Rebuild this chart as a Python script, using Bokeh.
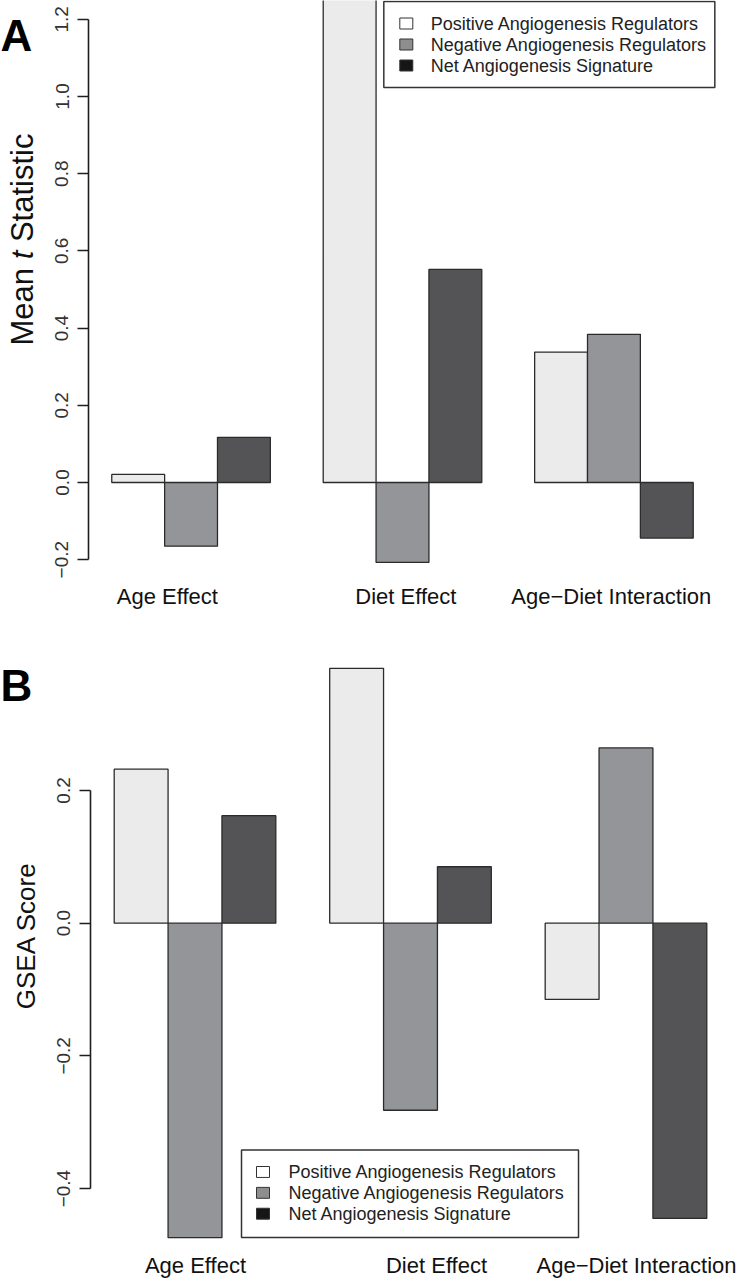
import math
from bokeh.plotting import figure
from bokeh.models import FixedTicker, Range1d
from bokeh.layouts import column, row
from bokeh.embed import file_html
from bokeh.resources import INLINE
from bokeh.core.properties import value

FONT = "Liberation Sans"

# ---------------- data ----------------
groups = ["Age Effect", "Diet Effect", "Age\u2212Diet Interaction"]
series = ["Positive Angiogenesis Regulators",
          "Negative Angiogenesis Regulators",
          "Net Angiogenesis Signature"]

mean_t_positive = [0.021, 1.30, 0.338]
mean_t_negative = [-0.165, -0.207, 0.384]
mean_t_net = [0.117, 0.552, -0.144]

gsea_positive = [0.232, 0.384, -0.115]
gsea_negative = [-0.474, -0.282, 0.264]
gsea_net = [0.162, 0.085, -0.445]

yticks_a = [-0.2, 0.0, 0.2, 0.4, 0.6, 0.8, 1.0, 1.2]
yticks_b = [-0.4, -0.2, 0.0, 0.2]

# ---------------- styles ----------------
bar_fill = ["#ebebeb", "#939598", "#545456"]
swatch_fill = ["#ffffff", "#8e8e8e", "#161616"]
EDGE = "#2b2b2b"

# frame edges (page pixels) of the two panels
A_TOP, A_BOTTOM = 0, 570
B_TOP, B_BOTTOM = 645, 1247


def bar_lefts(g_count, s):
    # R barplot(beside=TRUE, space=c(0,1)) layout
    return [1 + g * (3 + 1) + s for g in range(g_count)]


# page-pixel -> data helpers (for placing annotations)
def ax(px):
    return 0.56 + (px - 87.7) / 52.86


def ay(py):
    return (482.0 - py) / 386.0


def bx(px):
    return 0.56 + (px - 90.0) / 53.87


def by(py):
    return (924.5 - py) / 668.0


def style_axes(p, yticks, label_pos, cat_standoff):
    p.grid.visible = False
    p.outline_line_color = None
    ya = p.yaxis[0]
    ya.ticker = FixedTicker(ticks=yticks)
    ya.bounds = (min(yticks), max(yticks))
    ya.major_label_overrides = {t: ("%.1f" % t).replace("-", "\u2212") for t in yticks}
    ya.major_label_orientation = "vertical"
    ya.major_tick_out = 11
    ya.major_tick_in = 0
    ya.minor_tick_out = 0
    ya.minor_tick_in = 0
    ya.axis_line_color = "#1e1e1e"
    ya.axis_line_width = 1.6
    ya.major_tick_line_color = "#1e1e1e"
    ya.major_tick_line_width = 1.6
    ya.major_label_text_font = FONT
    ya.major_label_text_font_size = "19px"
    ya.major_label_text_color = "#333333"
    ya.major_label_standoff = 9
    xa = p.xaxis[0]
    xa.ticker = FixedTicker(ticks=label_pos)
    xa.major_label_overrides = {t: g for t, g in zip(label_pos, groups)}
    xa.axis_line_color = None
    xa.major_tick_line_color = None
    xa.minor_tick_line_color = None
    xa.major_tick_out = 0
    xa.major_tick_in = 0
    xa.major_label_text_font = FONT
    xa.major_label_text_font_size = "22px"
    xa.major_label_text_color = "#111111"
    xa.major_label_standoff = cat_standoff


def draw_bars(p, vals_list):
    for s, vals in enumerate(vals_list):
        lefts = bar_lefts(len(vals), s)
        p.quad(left=lefts, right=[l + 1 for l in lefts], bottom=0, top=vals,
               fill_color=bar_fill[s], line_color=EDGE, line_width=1.3)


def draw_legend(p, fx, fy, box, sw_x, txt_x, rows):
    p.quad(left=fx(box[0]), right=fx(box[1]), top=fy(box[2]), bottom=fy(box[3]),
           fill_color="white", line_color="#333333", line_width=1.5)
    p.quad(left=[fx(sw_x[0])] * 3, right=[fx(sw_x[1])] * 3,
           top=[fy(c - 5.5) for c in rows], bottom=[fy(c + 5.5) for c in rows],
           fill_color=swatch_fill, line_color="#333333", line_width=1)
    p.text(x=[fx(txt_x)] * 3, y=[fy(c) for c in rows], text=series,
           text_font=value(FONT), text_font_size=value("18px"), text_color="#222222",
           text_baseline="middle", text_align="left")


def side_panel(frame_top, frame_bottom, height):
    # its frame is aligned by the row layout with the neighbouring plot's frame
    f = figure(width=40, height=height, x_range=Range1d(0, 40),
               y_range=Range1d(frame_bottom, frame_top), x_axis_type=None, y_axis_type=None,
               output_backend="svg", toolbar_location=None, title=None,
               min_border_left=0, min_border_right=0, min_border_top=0, min_border_bottom=0)
    f.grid.visible = False
    f.outline_line_color = None
    return f


# ---------------- panel A ----------------
pa = figure(width=698, height=640, x_range=Range1d(0.56, 12.44),
            y_range=Range1d(ay(A_BOTTOM), ay(A_TOP)), output_backend="svg",
            toolbar_location=None, min_border_left=48, min_border_right=22,
            min_border_top=0, min_border_bottom=640 - A_BOTTOM)
label_pos_a = [ax(166.5), ax(405.0), ax(610.5)]
style_axes(pa, yticks_a, label_pos_a, 13)
draw_bars(pa, [mean_t_positive, mean_t_negative, mean_t_net])
draw_legend(pa, ax, ay, (383, 714, 1, 87), (399, 412), 430, [23, 44, 65])

ta = side_panel(A_TOP, A_BOTTOM, 640)
fa = 31
y0 = 345.0
w_mean = 2.501 * fa
w_t = 0.278 * fa
w_sp = 0.278 * fa
ta.text(x=[22, 22, 22], y=[y0, y0 - w_mean - w_sp, y0 - w_mean - w_sp - w_t - w_sp],
        text=["Mean", "t", "Statistic"], angle=math.pi / 2,
        text_font=value(FONT), text_font_size=value("%dpx" % fa),
        text_font_style=["normal", "italic", "normal"],
        text_color="#111111", text_align="left", text_baseline="middle")
ta.text(x=[0], y=[35], text=["A"], text_font=value(FONT), text_font_size=value("44px"),
        text_font_style="bold", text_color="#000000",
        text_align="left", text_baseline="alphabetic")

# ---------------- panel B ----------------
pb = figure(width=698, height=640, x_range=Range1d(0.56, 12.44),
            y_range=Range1d(by(B_BOTTOM), by(B_TOP)), output_backend="svg",
            toolbar_location=None, min_border_left=50, min_border_right=8,
            min_border_top=B_TOP - 640, min_border_bottom=1280 - B_BOTTOM)
label_pos_b = [bx(195.0), bx(436.0), bx(636.0)]
style_axes(pb, yticks_b, label_pos_b, 9)
draw_bars(pb, [gsea_positive, gsea_negative, gsea_net])
draw_legend(pb, bx, by, (241, 578, 1153, 1241), (256, 269), 288, [1175, 1196, 1217])

tb = side_panel(B_TOP, B_BOTTOM, 640)
tb.text(x=[25], y=[937], text=["GSEA Score"], angle=math.pi / 2,
        text_font=value(FONT), text_font_size=value("26px"), text_color="#111111",
        text_align="center", text_baseline="middle")
tb.text(x=[0], y=[685], text=["B"], text_font=value(FONT), text_font_size=value("44px"),
        text_font_style="bold", text_color="#000000",
        text_align="left", text_baseline="alphabetic")

layout = column(row(ta, pa, spacing=0), row(tb, pb, spacing=0), spacing=0)
open("out.html", "w").write(file_html(layout, INLINE))
